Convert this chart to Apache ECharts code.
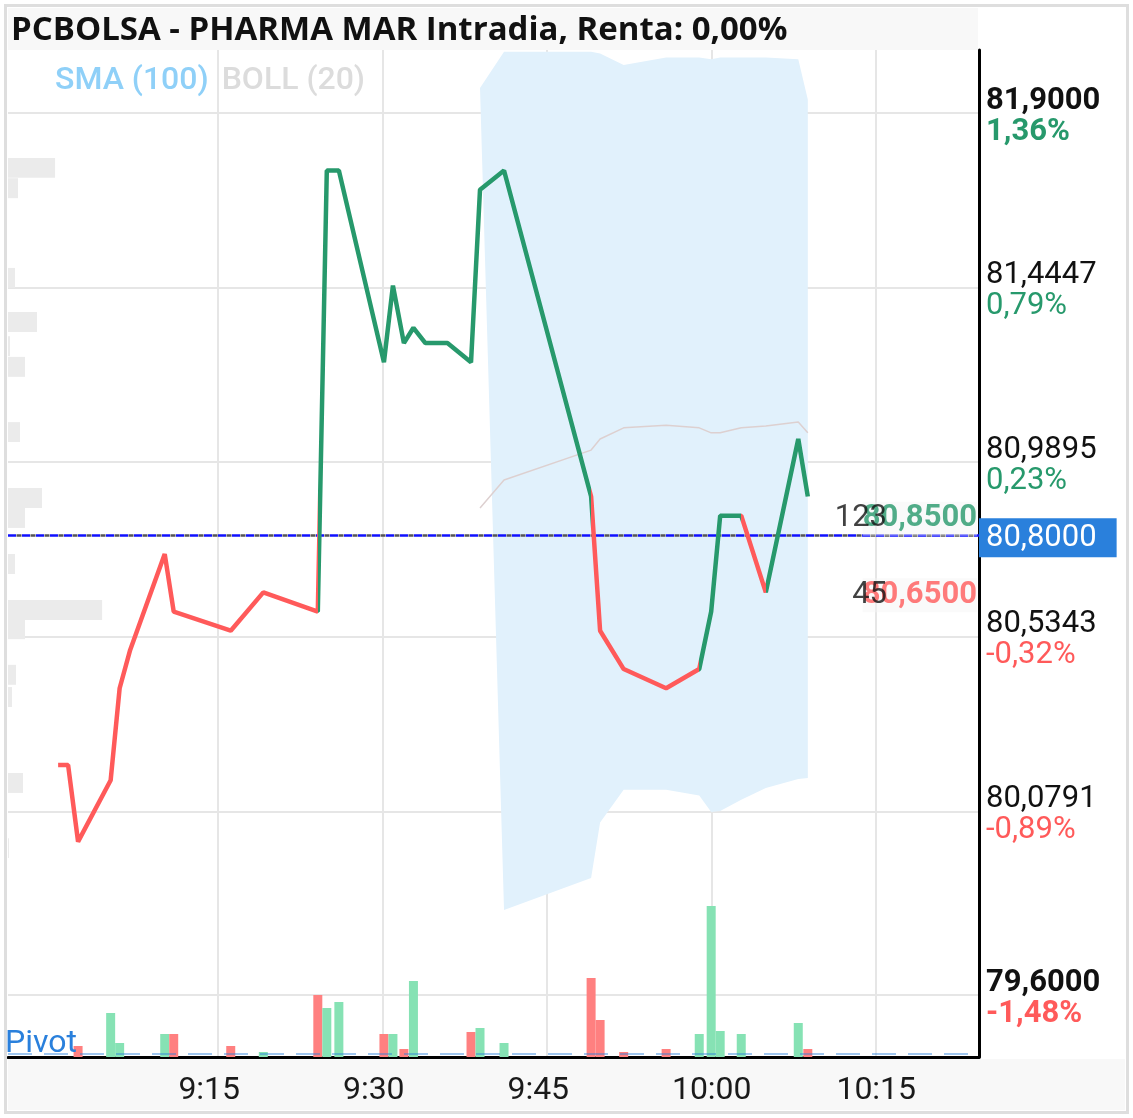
<!DOCTYPE html>
<html>
<head>
<meta charset="utf-8">
<script src="https://cdn.jsdelivr.net/npm/echarts@6/dist/echarts.min.js"></script>
<style>
html, body { margin: 0; padding: 0; background: #fff; }
#chart { width: 1133px; height: 1118px; }
</style>
</head>
<body>
<div id="chart"></div>
<script>
// reference close (0,00%)
const refPrice = 80.8;

// trade times, minutes since midnight (9:00 = 540)
const times = [540.40, 541.31, 542.22, 545.19, 546.01, 546.97, 550.12, 550.94, 556.14, 559.11,
               564.08, 564.90, 566.00, 570.11, 570.93, 571.93, 572.80, 573.89, 575.90, 578.05,
               578.87, 581.06, 589.00, 589.82, 591.97, 595.84, 598.86, 599.95, 600.77, 602.69,
               604.93, 607.89, 608.76];
const prices = [80.20, 80.20, 80.00, 80.16, 80.40, 80.50, 80.75, 80.60, 80.55, 80.65,
                80.60, 81.75, 81.75, 81.25, 81.45, 81.30, 81.34, 81.30, 81.30, 81.25,
                81.70, 81.75, 80.90, 80.55, 80.45, 80.40, 80.45, 80.60, 80.85, 80.85,
                80.65, 81.05, 80.90];
const volumes = [0, 0, 110, 440, 140, 0, 230, 230, 110, 50,
                 620, 490, 550, 230, 230, 80, 760, 0, 0, 250,
                 290, 140, 790, 370, 50, 80, 230, 1510, 260, 230,
                 0, 340, 80];
// times where the line colour flips (red first)
const colorBreaks = [564.08, 589.00, 598.86, 602.69, 604.93];

// bollinger (20), starts at index 20 of times (lower band one point later)
const bollStart = 20;
const bollUpper = [81.965, 82.06, 82.06, 82.055, 82.025, 82.045, 82.045, 82.04, 82.045, 82.045, 82.045, 82.04, 81.935];
const bollMid = [80.870, 80.943, 81.021, 81.050, 81.079, 81.086, 81.079, 81.066, 81.066, 81.079, 81.084, 81.094, 81.066];
const bollLower = [79.822, 79.905, 80.050, 80.135, 80.135, 80.120, 80.077, 80.080, 80.109, 80.140, 80.163, 80.166];

// volume by price (left side)
const profilePrices = [81.757, 81.704, 81.470, 81.355, 81.292, 81.238, 81.068, 80.896, 80.844, 80.724,
                       80.604, 80.554, 80.435, 80.377, 80.153, 79.983];
const profileVolumes = [47, 10, 7, 29, 2, 17, 12, 34, 17, 7, 94, 17, 8, 4, 15, 1];

// axes
const priceTicks = [79.6, 80.0791, 80.5343, 80.9895, 81.4447, 81.9];
const priceLabels = ['79,6000', '80,0791', '80,5343', '80,9895', '81,4447', '81,9000'];
const pctLabels = ['-1,48%', '-0,89%', '-0,32%', '0,23%', '0,79%', '1,36%'];
const timeTicks = [555, 570, 585, 600, 615];
const timeLabels = ['9:15', '9:30', '9:45', '10:00', '10:15'];

const askBid = [80.85, 80.65];
const askBidLabels = ['80,8500', '80,6500'];
const askBidSizes = ['123', '45'];
const pivotLevel = 79.446;

const GREEN = '#27996c';
const RED = '#ff5a5a';
const xMin = 535.83, xMax = 624.37;

const chart = echarts.init(document.getElementById('chart'));

const pieces = [];
let prev = null;
for (let i = 0; i <= colorBreaks.length; i++) {
    const p = { color: i % 2 === 0 ? RED : GREEN };
    if (prev !== null) p.gt = prev;
    if (i < colorBreaks.length) p.lte = colorBreaks[i];
    pieces.push(p);
    prev = colorBreaks[i];
}

const volData = [];
for (let i = 0; i < times.length; i++) {
    if (!volumes[i]) continue;
    const up = i === 0 || prices[i] >= prices[i - 1];
    volData.push({ value: [times[i], volumes[i]], itemStyle: { color: up ? '#86e2b4' : '#ff8080' } });
}

const option = {
    animation: false,
    textStyle: { fontFamily: 'Roboto' },
    title: [{
        text: 'PCBOLSA - PHARMA MAR Intradia, Renta: 0,00%',
        left: 11, top: 14, padding: 0,
        textStyle: { fontFamily: 'Open Sans', fontWeight: 'bold', fontSize: 33, color: '#111' }
    }, {
        text: 'Pivot',
        left: 5, top: 1028, padding: 0,
        textStyle: { fontFamily: 'Roboto', fontWeight: 'normal', fontSize: 32, color: '#2a80dc' }
    }],
    legend: {
        left: 50, top: 65, padding: 0,
        icon: 'none', itemWidth: 0, itemGap: 8,
        selectedMode: false,
        textStyle: { fontSize: 32, fontWeight: 500, fontFamily: 'Roboto' },
        data: [
            { name: 'SMA (100)', textStyle: { color: '#8fd0f8' } },
            { name: 'BOLL (20)', textStyle: { color: '#dcdcdc' } }
        ]
    },
    graphic: [
        { type: 'rect', z: -10, shape: { x: 8, y: 8, width: 970, height: 42 }, style: { fill: '#f8f8f8' } },
        { type: 'rect', z: -10, shape: { x: 8, y: 1059, width: 1117, height: 51 }, style: { fill: '#f8f8f8' } },
        { type: 'rect', z: 100, shape: { x: 5.5, y: 5.5, width: 1122, height: 1107 }, style: { fill: null, stroke: '#dedede', lineWidth: 3 } }
    ],
    grid: { left: 8, top: 50, right: 154, bottom: 61 },
    visualMap: { type: 'piecewise', show: false, dimension: 0, seriesIndex: 5, pieces: pieces },
    xAxis: [{
        type: 'value', min: xMin, max: xMax, position: 'bottom',
        axisLine: { onZero: false, lineStyle: { color: '#000', width: 3 } },
        axisTick: { show: false, customValues: timeTicks },
        axisLabel: {
            customValues: timeTicks, margin: 18, fontSize: 32, color: '#1a1a1a',
            formatter: function (v) {
                const i = timeTicks.indexOf(Math.round(v));
                const s = timeLabels[i];
                return s.length < 5 ? s + '\u2007' : s;
            }
        },
        splitLine: { show: true, lineStyle: { color: '#e6e6e6', width: 2 } }
    }, {
        type: 'value', min: 0, max: 970, show: false
    }],
    yAxis: [{
        type: 'value', position: 'right', min: 79.4384, max: 82.0643,
        axisLine: { show: true, onZero: false, lineStyle: { color: '#000', width: 3 } },
        axisTick: { show: false, customValues: priceTicks },
        axisLabel: {
            customValues: priceTicks, margin: 7, padding: [7, 0, 0, 0],
            formatter: function (v) {
                let i = 0;
                for (let k = 0; k < priceTicks.length; k++) if (Math.abs(priceTicks[k] - v) < 1e-6) i = k;
                const b = (i === 0 || i === priceTicks.length - 1) ? 'B' : '';
                const c = priceTicks[i] >= refPrice ? 'g' : 'r';
                return '{p' + b + '|' + priceLabels[i] + '}\n{' + c + b + '|' + pctLabels[i] + '}';
            },
            rich: {
                p: { fontSize: 31, lineHeight: 31, color: '#111' },
                pB: { fontSize: 31, lineHeight: 31, color: '#111', fontWeight: 'bold' },
                g: { fontSize: 31, lineHeight: 31, color: GREEN },
                gB: { fontSize: 31, lineHeight: 31, color: GREEN, fontWeight: 'bold' },
                r: { fontSize: 31, lineHeight: 31, color: RED },
                rB: { fontSize: 31, lineHeight: 31, color: RED, fontWeight: 'bold' }
            }
        },
        splitLine: { show: true, lineStyle: { color: '#e6e6e6', width: 2 } }
    }, {
        type: 'value', min: 0, max: 10070, show: false
    }],
    series: [{
        name: 'BOLL (20)',
        type: 'custom',
        z: 1,
        silent: true,
        data: [[times[bollStart], bollUpper[0]]],
        renderItem: function (params, api) {
            const pts = [];
            for (let i = 0; i < bollUpper.length; i++) pts.push(api.coord([times[bollStart + i], bollUpper[i]]));
            for (let i = bollLower.length - 1; i >= 0; i--) pts.push(api.coord([times[bollStart + 1 + i], bollLower[i]]));
            return { type: 'polygon', shape: { points: pts }, style: { fill: '#e1f1fc' } };
        }
    }, {
        name: 'Perfil',
        type: 'custom',
        xAxisIndex: 1,
        z: 1,
        silent: true,
        data: profilePrices.map((p, i) => [profileVolumes[i], p]),
        renderItem: function (params, api) {
            const w = api.value(0), p = api.value(1);
            const a = api.coord([0, p + 0.026]);
            const b = api.coord([w, p - 0.026]);
            return { type: 'rect', shape: { x: a[0], y: a[1], width: b[0] - a[0], height: b[1] - a[1] }, style: { fill: '#ebebeb' } };
        }
    }, {
        name: 'Volumen',
        type: 'bar',
        yAxisIndex: 1,
        barWidth: 9,
        z: 2,
        data: volData
    }, {
        name: 'BOLL (20)',
        type: 'line',
        showSymbol: false,
        z: 3,
        lineStyle: { color: '#ddd0d0', width: 1.5 },
        data: bollMid.map((v, i) => [times[bollStart + i], v])
    }, {
        name: 'SMA (100)',
        type: 'line',
        showSymbol: false,
        lineStyle: { color: '#8fd0f8' },
        data: []
    }, {
        name: 'PHARMA MAR',
        type: 'line',
        showSymbol: false,
        z: 5,
        lineStyle: { width: 4.5 },
        data: times.map((t, i) => [t, prices[i]]),
        markLine: {
            silent: true,
            symbol: ['none', 'none'],
            animation: false,
            data: [{
                yAxis: refPrice,
                lineStyle: { color: '#555', type: [5, 9], dashOffset: 5.5, width: 2.5 },
                label: { show: false }
            }, {
                yAxis: refPrice,
                lineStyle: { color: '#1010ff', type: [8, 6], width: 2.5 },
                label: {
                    show: true, position: 'end', distance: 0, offset: [0, 3],
                    formatter: '80,8000',
                    backgroundColor: '#2a80dc', color: '#fff',
                    fontSize: 31, padding: [5, 20, 3, 7]
                }
            }]
        }
    }, {
        name: 'Pivot',
        type: 'line',
        showSymbol: false,
        z: 4,
        lineStyle: { color: '#2a80dc', width: 2, type: [24, 12], opacity: 0.45 },
        data: [[xMin, pivotLevel], [xMax, pivotLevel]]
    }, {
        name: 'Ask/Bid',
        type: 'scatter',
        symbolSize: 0,
        clip: false,
        z: 6,
        data: askBid.map((v, i) => ({
            value: [xMax, v],
            label: { color: i === 0 ? GREEN : RED }
        })),
        label: {
            show: true, position: 'left', distance: 2,
            fontSize: 31, fontWeight: 'bold',
            padding: [3, 0, 0, 0], offset: [0, 3],
            backgroundColor: 'rgba(244,244,244,0.6)',
            formatter: function (p) { return askBidLabels[p.dataIndex]; }
        }
    }, {
        name: 'Size',
        type: 'scatter',
        symbolSize: 0,
        clip: false,
        z: 7,
        data: askBid.map(v => [xMax, v]),
        label: {
            show: true, position: 'left', distance: 92,
            fontSize: 31, color: '#111', padding: [3, 0, 0, 0], offset: [0, 3],
            formatter: function (p) { return askBidSizes[p.dataIndex]; }
        }
    }]
};

chart.setOption(option);
</script>
</body>
</html>
